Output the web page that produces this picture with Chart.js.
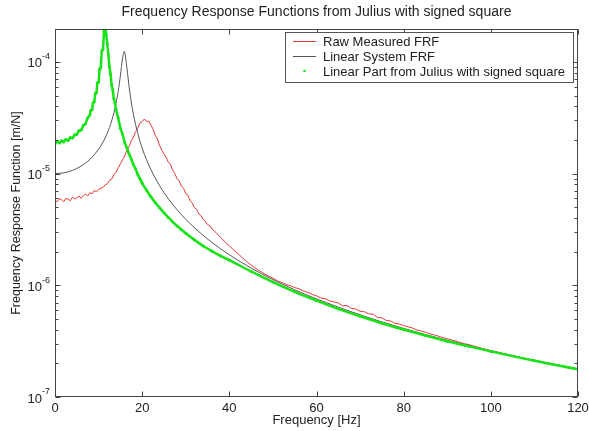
<!DOCTYPE html>
<html>
<head>
<meta charset="utf-8">
<script src="https://cdn.jsdelivr.net/npm/chart.js@4/dist/chart.umd.min.js"></script>
<style>
  html, body { margin: 0; padding: 0; background: #fff; }
  canvas { display: block; }
</style>
</head>
<body>
<canvas id="frf" width="589" height="431"></canvas>
<script>
// frecuencias y valores
const redFreq = [0,0.5,1,1.5,2,2.5,3,3.5,4,4.5,5,5.5,6,6.5,7,7.5,8,8.5,9,9.5,10,10.5,11,11.5,12,12.5,13,13.5,14,14.5,15,15.5,16,16.5,17,17.5,18,18.5,19,19.5,20,20.5,21,21.5,22,22.5,23,23.5,24,24.5,25,25.5,26,26.5,27,27.5,28,28.5,29,29.5,30,30.5,31,31.5,32,32.5,33,33.5,34,34.5,35,35.5,36,
  37,38,39,40,41,42,43,44,45,46,47,48,49,50,51,52,53,54,55,56,57,58,59,60,61,62,63,64,65,66,67,68,69,70,71,72,73,74,75,76,77,78,79,80,81,82,83,84,85,86,87,88,89,90,91,92,93,94,95,96,97,98,99,100,101,102,103,104,105,106,107,108,109,110,111,112,113,114,115,116,117,118,119,120];
const redValues = [5.8e-6,5.6e-6,5.95e-6,5.85e-6,5.6e-6,6.0e-6,5.9e-6,5.7e-6,6.15e-6,5.95e-6,6.05e-6,6.3e-6,6.0e-6,6.35e-6,6.55e-6,6.3e-6,6.75e-6,6.6e-6,7.05e-6,6.85e-6,7.25e-6,7.4e-6,7.5e-6,7.9e-6,8.1e-6,8.7e-6,8.9e-6,9.8e-6,1.03e-5,1.13e-5,1.22e-5,1.33e-5,1.44e-5,1.62e-5,1.74e-5,1.97e-5,2.12e-5,2.38e-5,2.55e-5,2.85e-5,2.92e-5,3.08e-5,2.93e-5,2.95e-5,2.72e-5,2.5e-5,2.2e-5,2.05e-5,1.78e-5,1.62e-5,1.5e-5,1.4e-5,1.26e-5,1.21e-5,1.07e-5,1.0e-5,9.0e-6,8.6e-6,7.7e-6,7.4e-6,6.6e-6,6.4e-6,5.7e-6,5.45e-6,4.95e-6,4.8e-6,4.35e-6,4.2e-6,3.9e-6,3.75e-6,3.5e-6,3.4e-6,3.2e-6,
  2.95e-6,2.68e-6,2.45e-6,2.25e-6,2.07e-6,1.92e-6,1.76e-6,1.63e-6,1.52e-6,1.42e-6,1.34e-6,1.27e-6,1.21e-6,1.16e-6,1.1e-6,1.06e-6,1.02e-6,9.9e-7,9.55e-7,9.3e-7,8.9e-7,8.65e-7,8.3e-7,8.05e-7,7.7e-7,7.6e-7,7.25e-7,7.1e-7,6.95e-7,6.55e-7,6.6e-7,6.2e-7,6.15e-7,5.85e-7,5.8e-7,5.55e-7,5.5e-7,5.15e-7,5.1e-7,4.85e-7,4.8e-7,4.55e-7,4.5e-7,4.35e-7,4.25e-7,4.15e-7,3.98e-7,3.9e-7,3.8e-7,3.68e-7,3.6e-7,3.5e-7,3.4e-7,3.33e-7,3.24e-7,3.16e-7,3.08e-7,3.0e-7,2.94e-7,2.86e-7,2.8e-7,2.72e-7,2.66e-7,2.6e-7,2.55e-7,2.5e-7,2.44e-7,2.39e-7,2.34e-7,2.3e-7,2.25e-7,2.2e-7,2.16e-7,2.12e-7,2.08e-7,2.04e-7,2.0e-7,1.96e-7,1.93e-7,1.9e-7,1.86e-7,1.83e-7,1.8e-7,1.78e-7];

const blackFreq = [0,2,4,6,8,10,11,12,13,14,14.5,15,15.5,15.9,16.5,17,17.5,18,19,20,21,22,24,26,28,30,33,36,40,45,50,55,60,70,80,90,100,110,120];
const blackValues = [1.0e-5,1.016e-5,1.068e-5,1.166e-5,1.339e-5,1.654e-5,1.907e-5,2.3e-5,2.96e-5,4.25e-5,5.45e-5,7.5e-5,1.08e-4,1.24e-4,8.84e-5,6.0e-5,4.37e-5,3.38e-5,2.28e-5,1.69e-5,1.33e-5,1.086e-5,7.79e-6,5.96e-6,4.75e-6,3.9e-6,3.02e-6,2.42e-6,1.876e-6,1.427e-6,1.125e-6,9.12e-7,7.55e-7,5.44e-7,4.11e-7,3.22e-7,2.59e-7,2.13e-7,1.79e-7];

const greenFreq = [0,0.5,1,1.5,2,2.5,3,3.5,4,4.5,5,5.5,6,6.5,7,7.5,8,8.25,8.5,8.75,9,9.25,9.5,9.75,10,10.25,10.5,10.75,11,11.25,11.5,11.75,12,12.25,12.5,12.75,13,13.25,13.5,13.75,14,14.5,15,15.5,16,16.5,17,17.5,18,18.5,19,19.5,20,21,22,23,24,25,26,27,28,29,30,32,34,36,38,40,45,50,55,60,65,70,75,80,85,90,95,100,110,120];
const greenValues = [1.85e-5,1.95e-5,1.88e-5,1.97e-5,1.92e-5,2.02e-5,1.98e-5,2.1e-5,2.08e-5,2.22e-5,2.25e-5,2.42e-5,2.45e-5,2.7e-5,2.8e-5,3.15e-5,3.35e-5,3.7e-5,3.75e-5,4.3e-5,4.4e-5,5.2e-5,5.3e-5,6.5e-5,6.6e-5,8.6e-5,8.9e-5,1.25e-4,1.3e-4,1.9e-4,2.3e-4,1.75e-4,1.45e-4,1.15e-4,9.0e-5,7.8e-5,6.2e-5,5.6e-5,4.7e-5,4.3e-5,3.75e-5,3.15e-5,2.55e-5,2.25e-5,1.9e-5,1.7e-5,1.5e-5,1.35e-5,1.2e-5,1.1e-5,9.8e-6,9.0e-6,8.2e-6,7.1e-6,6.2e-6,5.5e-6,4.95e-6,4.45e-6,4.05e-6,3.7e-6,3.4e-6,3.15e-6,2.92e-6,2.55e-6,2.25e-6,2.02e-6,1.83e-6,1.68e-6,1.33e-6,1.07e-6,8.75e-7,7.3e-7,6.15e-7,5.28e-7,4.58e-7,4.02e-7,3.55e-7,3.16e-7,2.84e-7,2.56e-7,2.11e-7,1.77e-7];

const xTickValues = [0, 20, 40, 60, 80, 100, 120];
const yTickExponents = [-7, -6, -5, -4];
const legendLabels = ['Raw Measured FRF', 'Linear System FRF', 'Linear Part from Julius with signed square'];

const RED = '#e6393b';
const BLACK = '#555';
const GREEN = '#17e317';
const AXIS = '#444';
const FONT = '"Liberation Sans", Arial, sans-serif';

function pairs(xs, ys) {
  return xs.map(function (f, i) { return { x: f, y: ys[i] }; });
}

// ejes estilo matlab: caja, ticks hacia dentro, exponentes
const matlabFrame = {
  id: 'matlabFrame',
  afterDraw(chart) {
    const ctx = chart.ctx;
    const a = chart.chartArea;
    const x = chart.scales.x;
    const y = chart.scales.y;
    ctx.save();
    ctx.strokeStyle = AXIS;
    ctx.lineWidth = 1;
    const L = Math.round(a.left) + 0.5, R = Math.round(a.right) - 0.5;
    const T = Math.round(a.top) + 0.5, B = Math.round(a.bottom) - 0.5;
    ctx.strokeRect(L, T, R - L, B - T);

    ctx.beginPath();
    xTickValues.forEach(function (v) {
      const px = Math.round(x.getPixelForValue(v)) + 0.5;
      ctx.moveTo(px, B); ctx.lineTo(px, B - 5);
      ctx.moveTo(px, T); ctx.lineTo(px, T + 5);
    });
    yTickExponents.forEach(function (e) {
      const py = Math.round(y.getPixelForValue(Math.pow(10, e))) + 0.5;
      ctx.moveTo(L, py); ctx.lineTo(L + 5, py);
      ctx.moveTo(R, py); ctx.lineTo(R - 5, py);
      for (let m = 2; m <= 9; m++) {
        const val = m * Math.pow(10, e);
        if (val > y.max) break;
        const pm = Math.round(y.getPixelForValue(val)) + 0.5;
        ctx.moveTo(L, pm); ctx.lineTo(L + 3, pm);
        ctx.moveTo(R, pm); ctx.lineTo(R - 3, pm);
      }
    });
    ctx.stroke();

    ctx.fillStyle = '#222';
    ctx.font = '13px ' + FONT;
    ctx.textAlign = 'center';
    ctx.textBaseline = 'middle';
    xTickValues.forEach(function (v) {
      ctx.fillText(String(v), x.getPixelForValue(v), a.bottom + 11);
    });
    ctx.fillText('Frequency [Hz]', (a.left + a.right) / 2, a.bottom + 23);

    yTickExponents.forEach(function (e) {
      const py = y.getPixelForValue(Math.pow(10, e));
      ctx.font = '9px ' + FONT;
      ctx.textAlign = 'left';
      const sup = String(e);
      const supW = ctx.measureText(sup).width;
      const supX = a.left - 5 - supW;
      ctx.fillText(sup, supX, py - 5);
      ctx.font = '13px ' + FONT;
      ctx.textAlign = 'right';
      ctx.fillText('10', supX, py + 2);
    });

    ctx.save();
    ctx.translate(17, (a.top + a.bottom) / 2);
    ctx.rotate(-Math.PI / 2);
    ctx.textAlign = 'center';
    ctx.font = '12.5px ' + FONT;
    ctx.fillText('Frequency Response Function [m/N]', 0, 0);
    ctx.restore();

    ctx.font = '14px ' + FONT;
    ctx.textAlign = 'center';
    ctx.fillText('Frequency Response Functions from Julius with signed square', (a.left + a.right) / 2, 12);

    // leyenda
    const bx = 285.5, by = 32.5, bw = 288, bh = 50;
    ctx.fillStyle = '#fff';
    ctx.fillRect(bx, by, bw, bh);
    ctx.strokeStyle = '#555';
    ctx.strokeRect(bx, by, bw, bh);
    const rows = [41, 56, 71];
    ctx.font = '13px ' + FONT;
    ctx.textAlign = 'left';
    ctx.fillStyle = '#222';
    legendLabels.forEach(function (txt, i) {
      const ry = rows[i];
      if (i < 2) {
        ctx.strokeStyle = i === 0 ? RED : BLACK;
        ctx.beginPath();
        ctx.moveTo(293, ry + 0.5); ctx.lineTo(316, ry + 0.5);
        ctx.stroke();
      } else {
        ctx.fillStyle = GREEN;
        ctx.beginPath();
        ctx.arc(304.5, ry, 1.3, 0, Math.PI * 2);
        ctx.fill();
        ctx.fillStyle = '#222';
      }
      ctx.fillText(txt, 323, ry + 1);
    });
    ctx.restore();
  }
};

new Chart(document.getElementById('frf').getContext('2d'), {
  type: 'line',
  data: {
    datasets: [
      {
        label: legendLabels[0],
        data: pairs(redFreq, redValues),
        borderColor: RED,
        borderWidth: 1,
        pointRadius: 0,
        tension: 0,
        order: 3,
        clip: 0
      },
      {
        label: legendLabels[1],
        data: pairs(blackFreq, blackValues),
        borderColor: BLACK,
        borderWidth: 1,
        pointRadius: 0,
        cubicInterpolationMode: 'monotone',
        order: 2,
        clip: 0
      },
      {
        label: legendLabels[2],
        data: pairs(greenFreq, greenValues),
        borderColor: GREEN,
        backgroundColor: GREEN,
        borderWidth: 2.5,
        pointRadius: 1.5,
        pointBorderWidth: 0,
        cubicInterpolationMode: 'monotone',
        order: 1,
        clip: 0
      }
    ]
  },
  options: {
    responsive: false,
    animation: false,
    layout: { padding: { left: 55, right: 11, top: 29, bottom: 34 } },
    scales: {
      x: { type: 'linear', display: false, min: 0, max: 120 },
      y: { type: 'logarithmic', display: false, min: 1e-7, max: 1.97e-4 }
    },
    plugins: {
      legend: { display: false },
      title: { display: false },
      tooltip: { enabled: false }
    }
  },
  plugins: [matlabFrame]
});
</script>
</body>
</html>
